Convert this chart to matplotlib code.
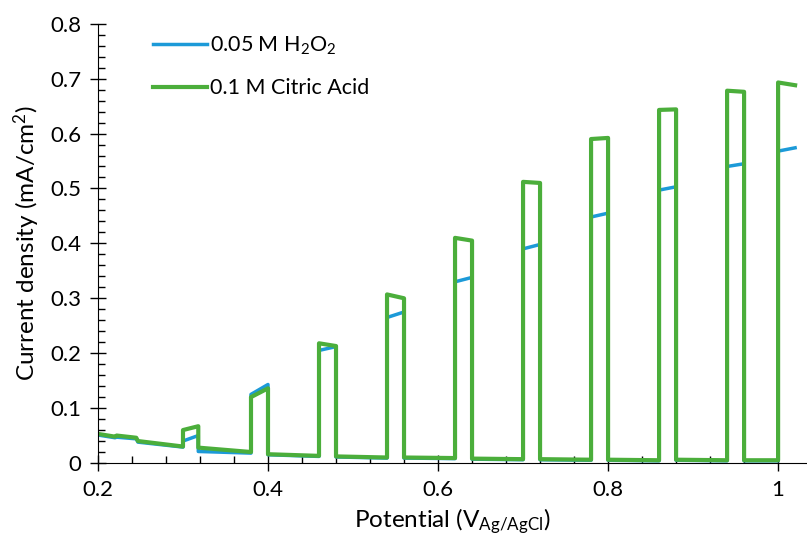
import matplotlib.pyplot as plt
from matplotlib.ticker import MultipleLocator, FuncFormatter

plt.rcParams['font.family'] = ['Lato', 'DejaVu Sans']
plt.rcParams['mathtext.default'] = 'regular'

# значения (chopped LSV)
x_green = [0.200, 0.220, 0.222, 0.245, 0.247, 0.300, 0.300, 0.318, 0.318, 0.380,
           0.380, 0.400, 0.400, 0.460, 0.460, 0.480, 0.480, 0.540, 0.540, 0.560,
           0.560, 0.620, 0.620, 0.640, 0.640, 0.700, 0.700, 0.720, 0.720, 0.780,
           0.780, 0.800, 0.800, 0.860, 0.860, 0.880, 0.880, 0.940, 0.940, 0.960,
           0.960, 1.000, 1.000, 1.020]
y_green = [0.053, 0.048, 0.050, 0.046, 0.040, 0.030, 0.060, 0.067, 0.028, 0.020,
           0.120, 0.136, 0.016, 0.013, 0.218, 0.213, 0.012, 0.010, 0.307, 0.300,
           0.010, 0.009, 0.410, 0.405, 0.008, 0.007, 0.512, 0.510, 0.007, 0.006,
           0.590, 0.592, 0.006, 0.005, 0.643, 0.644, 0.006, 0.005, 0.678, 0.676,
           0.005, 0.005, 0.693, 0.688]

x_blue = x_green
y_blue = [0.051, 0.046, 0.047, 0.044, 0.038, 0.029, 0.040, 0.050, 0.021, 0.018,
          0.125, 0.143, 0.015, 0.012, 0.205, 0.212, 0.011, 0.009, 0.265, 0.275,
          0.009, 0.008, 0.330, 0.338, 0.007, 0.006, 0.390, 0.398, 0.006, 0.005,
          0.448, 0.455, 0.005, 0.004, 0.497, 0.503, 0.005, 0.004, 0.540, 0.545,
          0.004, 0.004, 0.568, 0.574]

x_ticks = [0.2, 0.4, 0.6, 0.8, 1.0]
y_ticks = [0, 0.1, 0.2, 0.3, 0.4, 0.5, 0.6, 0.7, 0.8]

fig = plt.figure(figsize=(8.07, 5.39), dpi=100)
ax = fig.add_axes([0.1214, 0.141, 0.8786, 0.815])

ax.plot(x_blue, y_blue, color='#1C9AD8', lw=2.5, label='0.05 M H$_2$O$_2$')
ax.plot(x_green, y_green, color='#4BAE3B', lw=3.0, label='0.1 M Citric Acid')

ax.set_xlim(0.2, 1.034)
ax.set_ylim(0, 0.8)
ax.set_xticks(x_ticks)
ax.set_yticks(y_ticks)
ax.xaxis.set_minor_locator(MultipleLocator(0.04))
ax.yaxis.set_minor_locator(MultipleLocator(0.02))
fmt = FuncFormatter(lambda v, p: '%g' % round(v, 3))
ax.xaxis.set_major_formatter(fmt)
ax.yaxis.set_major_formatter(fmt)

ax.spines['top'].set_visible(False)
ax.spines['right'].set_visible(False)
ax.tick_params(which='major', direction='inout', length=12, width=1, labelsize=16, pad=6)
ax.tick_params(which='minor', direction='in', length=5, width=1)

ax.set_xlabel('Potential (V$_{Ag/AgCl}$)', fontsize=17.5, labelpad=5)
ax.set_ylabel('Current density (mA/cm$^2$)', fontsize=17.5, labelpad=6)

ax.legend(loc='upper left', bbox_to_anchor=(0.05, 1.02), frameon=False, fontsize=15.5,
          handlelength=2.5, handletextpad=0.15, labelspacing=1.0)

fig.savefig('out.png', dpi=100)
